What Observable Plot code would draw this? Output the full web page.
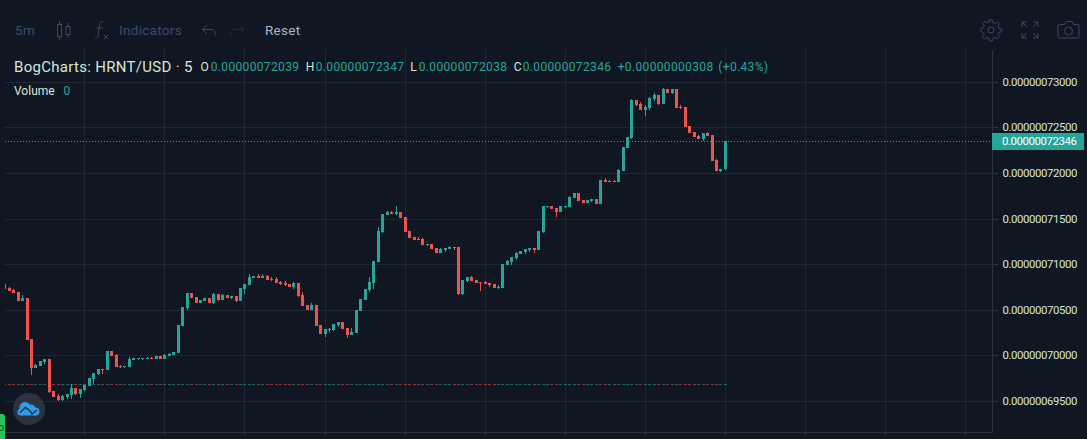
<!DOCTYPE html>
<html><head><meta charset="utf-8">
<script src="https://cdn.jsdelivr.net/npm/d3@7"></script>
<script src="https://cdn.jsdelivr.net/npm/@observablehq/plot@0.6"></script>
<style>
html,body{margin:0;padding:0;background:#101722;overflow:hidden}
#wrap{position:relative;width:1087px;height:439px;font-family:Roboto,sans-serif}
#wrap svg{display:block}
.t{position:absolute;white-space:nowrap;line-height:16px}
.tb{font-size:13.5px;color:#3a4a68;letter-spacing:.3px}
.lg{font-size:12px;color:#26a69a;letter-spacing:.35px}
.lb{font-size:12px;color:#d5e6da}
.ic{position:absolute;overflow:visible}
</style></head><body><div id="wrap"></div>
<script>
const opens=[70783,70739,70717,70695,70596,70629,70179,69861,69883,69927,
69960,69609,69554,69510,69543,69565,69642,69576,69620,69664,
69740,69795,69850,69839,70048,70004,69883,69872,69872,69949,
69960,69960,69960,69971,69960,69993,69960,69993,70004,70026,
70322,70519,70684,70640,70574,70596,70629,70574,70673,70607,
70662,70629,70651,70596,70728,70772,70848,70870,70848,70870,
70837,70837,70804,70793,70783,70750,70793,70662,70552,70497,
70552,70333,70234,70278,70278,70333,70366,70300,70223,70245,
70486,70607,70717,70793,71024,71353,71539,71572,71550,71572,
71517,71364,71298,71276,71276,71210,71221,71177,71123,71155,
71166,71188,71188,70673,70815,70859,70826,70804,70804,70793,
70783,70739,70739,70991,71024,71068,71112,71134,71155,71177,
71155,71353,71627,71638,71616,71572,71627,71627,71726,71781,
71704,71671,71693,71715,71660,71923,71901,71912,71901,72022,
72274,72384,72801,72757,72691,72713,72812,72856,72757,72922,
72878,72922,72724,72724,72516,72450,72406,72373,72439,72417,
72143,72022,72039];
const highs=[70783,70750,70728,70695,70662,70629,70179,69905,69938,69960,
69960,69609,69576,69565,69576,69686,69642,69631,69675,69751,
69806,69850,69850,70048,70048,70015,69894,69883,69982,69971,
69971,69971,69982,69982,69993,69993,70015,70026,70037,70333,
70530,70684,70684,70640,70607,70629,70629,70684,70673,70673,
70662,70651,70651,70739,70783,70892,70870,70892,70892,70881,
70859,70859,70815,70815,70783,70804,70793,70695,70552,70574,
70552,70333,70289,70300,70344,70366,70366,70300,70300,70497,
70618,70728,70859,71035,71408,71550,71583,71583,71638,71572,
71517,71364,71298,71298,71287,71221,71221,71177,71177,71177,
71199,71188,71188,70826,70859,70870,70826,70804,70815,70793,
70783,70772,71002,71046,71079,71134,71145,71166,71177,71177,
71364,71638,71638,71638,71616,71638,71638,71748,71781,71781,
71704,71704,71715,71715,71923,71945,71923,71923,72044,72285,
72395,72812,72801,72779,72746,72834,72878,72856,72933,72922,
72922,72922,72746,72724,72516,72450,72417,72439,72450,72417,
72154,72044,72347];
const lows=[70728,70706,70684,70596,70596,70168,69784,69861,69883,69905,
69587,69543,69499,69499,69521,69521,69565,69532,69609,69664,
69686,69784,69795,69839,69993,69872,69861,69861,69872,69949,
69949,69949,69960,69960,69960,69960,69960,69993,70004,70026,
70322,70497,70629,70574,70574,70596,70574,70563,70596,70607,
70629,70618,70585,70596,70673,70772,70848,70848,70848,70826,
70815,70793,70772,70761,70750,70728,70640,70541,70497,70497,
70322,70234,70201,70256,70267,70311,70289,70190,70223,70245,
70486,70607,70695,70728,71024,71342,71539,71550,71539,71507,
71353,71287,71265,71265,71210,71199,71166,71123,71123,71134,
71166,71155,70662,70662,70804,70815,70793,70706,70783,70750,
70739,70728,70739,70991,70991,71046,71112,71112,71134,71123,
71155,71342,71616,71605,71517,71572,71616,71627,71726,71693,
71671,71671,71682,71660,71660,71901,71901,71901,71901,72022,
72274,72373,72735,72691,72625,72691,72790,72746,72757,72878,
72867,72713,72702,72505,72439,72395,72373,72351,72406,72132,
72022,72011,72038];
const closes=[70728,70706,70684,70596,70629,70168,69861,69894,69938,69960,
69598,69543,69510,69554,69576,69642,69576,69631,69675,69751,
69806,69850,69839,70048,69993,69872,69872,69883,69960,69971,
69971,69971,69971,69960,69993,69960,70004,70015,70037,70333,
70530,70684,70629,70574,70607,70629,70574,70673,70607,70662,
70629,70651,70596,70739,70783,70859,70870,70848,70870,70826,
70826,70793,70783,70772,70750,70793,70651,70541,70497,70552,
70322,70234,70289,70289,70344,70366,70289,70223,70256,70497,
70618,70728,70804,71035,71364,71550,71572,71550,71572,71507,
71353,71287,71265,71265,71210,71221,71166,71123,71166,71177,
71188,71177,70673,70826,70859,70815,70793,70793,70783,70772,
70739,70750,71002,71035,71079,71123,71145,71166,71177,71155,
71364,71638,71638,71605,71572,71638,71638,71737,71781,71693,
71671,71704,71715,71660,71923,71901,71912,71901,72033,72285,
72395,72801,72746,72691,72724,72823,72856,72757,72922,72878,
72922,72713,72713,72505,72439,72395,72373,72439,72406,72132,
72022,72044,72346];
const priceTicks=[69500,70000,70500,71000,71500,72000,72500,73000];
const timeTicks=[18,36,54,72,90,108,126,144,162,180,198,216];
const lastPrice=72346;
const volumeLevel=[69686,69675];

const UP="#26a69a",DOWN="#ef5350",GRID="#1f2634",AXIS="#2a3242",TXT="#d5e6da",BG="#101722";
const fmt=d=>"0.000000"+d;
const rows=opens.map((o,i)=>({i,o,h:highs[i],l:lows[i],c:closes[i],dir:closes[i]>=o?"up":"down"}));

const chart=Plot.plot({
  width:1087,height:439,marginTop:50,marginBottom:7,marginLeft:5,marginRight:95,
  style:{background:BG,fontFamily:"Roboto,sans-serif",fontSize:"11.4px",letterSpacing:"-.42px"},
  x:{domain:[0.157,222.05],round:true,axis:null},
  y:{domain:[69159,73349.5],round:true,axis:null},
  color:{domain:["up","down"],range:[UP,DOWN]},
  marks:[
    Plot.gridX(timeTicks,{stroke:GRID,strokeOpacity:1}),
    Plot.gridY(priceTicks,{stroke:GRID,strokeOpacity:1}),
    Plot.axisX({ticks:timeTicks,tickFormat:()=>"",tickSize:4,stroke:AXIS,label:null}),
    Plot.axisY({anchor:"right",ticks:priceTicks,tickFormat:fmt,tickSize:5,tickPadding:5,stroke:AXIS,fill:TXT,label:null}),
    Plot.frame({anchor:"bottom",stroke:AXIS}),
    Plot.frame({anchor:"right",stroke:AXIS}),
    Plot.ruleX(rows,{x:"i",y1:volumeLevel[0],y2:volumeLevel[1],stroke:"dir",strokeWidth:3,strokeOpacity:.55,clip:true}),
    Plot.ruleY([lastPrice],{stroke:UP,strokeWidth:1,strokeDasharray:"1,2"}),
    Plot.ruleX(rows,{x:"i",y1:"l",y2:"h",stroke:"dir",strokeWidth:1,clip:true}),
    Plot.ruleX(rows,{x:"i",y1:"o",y2:"c",stroke:"dir",strokeWidth:3,clip:true})
  ]
});
const wrap=document.getElementById("wrap");
wrap.appendChild(chart);

function txt(s,x,y,cls,extra){
  const d=document.createElement("div");
  d.className="t "+cls;d.textContent=s;
  d.style.left=x+"px";d.style.top=y+"px";
  if(extra)Object.assign(d.style,extra);
  wrap.appendChild(d);
}
txt("5m",15,22,"tb");
txt("Indicators",119,22,"tb");
txt("Reset",265,22,"tb",{color:"#aab4c8"});
txt("BogCharts: HRNT/USD · 5",14,59,"lb",{fontSize:"15px",letterSpacing:".3px"});
txt("O",200.5,59,"lb");txt("0.00000072039",210.7,59,"lg");
txt("H",305.7,59,"lb");txt("0.00000072347",315.7,59,"lg");
txt("L",410.3,59,"lb");txt("0.00000072038",418.7,59,"lg");
txt("C",513.7,59,"lb");txt("0.00000072346",522.7,59,"lg");
txt("+0.00000000308",617.7,59,"lg");
txt("(+0.43%)",718.3,59,"lg");
txt("Volume",14,83,"lb");
txt("0",63.5,83,"lg");
txt(fmt(lastPrice),992,133,"",{height:"17px",lineHeight:"17px",background:UP,color:"#fff",fontSize:"11.4px",letterSpacing:"-.42px",paddingLeft:"10px",boxSizing:"border-box",width:"92px"});

function icon(x,y,w,h,body,stroke){
  const ns="http://www.w3.org/2000/svg";
  const s=document.createElementNS(ns,"svg");
  s.setAttribute("class","ic");s.setAttribute("width",w);s.setAttribute("height",h);
  s.setAttribute("viewBox",`0 0 ${w} ${h}`);
  s.style.left=x+"px";s.style.top=y+"px";
  s.innerHTML=`<g fill="none" stroke="${stroke}" stroke-width="1">${body}</g>`;
  wrap.appendChild(s);
}
const IC="#3a4860";
icon(57,20,14,21,'<rect x="0.5" y="4.5" width="4" height="12"/><path d="M2.5 1v3M2.5 17v3"/><rect x="9" y="6.5" width="4" height="8"/><path d="M11 3v3M11 15v3"/>',IC);
icon(94,20,16,20,'<path d="M9 1.5C6 1 6 3 5.5 6L4 16c-.3 2-2 2.5-3 1.5M2.5 8H9"/><path d="M10 15l4 4M14 15l-4 4"/>',IC);
icon(201,24,16,13,'<path d="M6 1L1.5 5.5L6 10M1.5 5.5H10c3 0 4.5 2.5 4.5 6"/>',"#3a475f");
icon(229,24,16,13,'<path d="M10 1l4.5 4.5L10 10M14.5 5.5H6c-3 0-4.5 2.5-4.5 6"/>',"#242d3d");
icon(980,19,22,22,'<circle cx="11" cy="11" r="3"/><path d="M9.5 1h3l.6 2.6 2 .9 2.3-1.4 2.1 2.1-1.4 2.3.9 2 2.5.5v3l-2.5.6-.9 2 1.4 2.3-2.1 2.1-2.3-1.4-2 .9-.6 2.5h-3l-.6-2.5-2-.9-2.3 1.4-2.1-2.1 1.4-2.3-.9-2L1 12.5v-3l2.5-.5.9-2-1.4-2.3 2.1-2.1 2.3 1.4 2-.9z" transform="translate(-.1 -.1)"/>',IC);
icon(1021,21,18,18,'<path d="M1 6V1h5M1 1l5 5M12 1h5v5M17 1l-5 5M1 12v5h5M1 17l5-5M17 12v5h-5M17 17l-5-5"/>',IC);
icon(1057,20,23,19,'<path d="M2.5 4.5h5L9 1.5h6l1.5 3h4a1.5 1.5 0 0 1 1.5 1.5v10.5a1.5 1.5 0 0 1-1.5 1.5h-18A1.5 1.5 0 0 1 1 16.500V6a1.500 1.500 0 0 1 1.500-1.500z"/><circle cx="11.500" cy="11" r="4"/>',IC);

const disc=document.createElement("div");
Object.assign(disc.style,{position:"absolute",left:"12.500px",top:"393px",width:"32px",height:"32px",borderRadius:"50%",background:"#2c323e"});
wrap.appendChild(disc);
icon(17,401,24,16,'<g fill="#2f9bea" stroke="none"><circle cx="8" cy="6.500" r="5.500"/><circle cx="14" cy="8" r="4.500"/><circle cx="18.500" cy="10.500" r="4"/><circle cx="4" cy="11" r="3.500"/><rect x="4" y="8" width="15" height="6.500"/></g><path d="M3 11.500l5.500-5 4.500 3.500 2 3 5-4" stroke="#2c323e" stroke-width="1.500"/>',"none");
const tab=document.createElement("div");
Object.assign(tab.style,{position:"absolute",left:"0",top:"414px",width:"5px",height:"25px",borderRadius:"0 3px 0 0",background:"#22c55e"});
wrap.appendChild(tab);
const tabDot=document.createElement("div");
Object.assign(tabDot.style,{position:"absolute",left:"-2px",top:"425px",width:"4px",height:"4px",borderRadius:"50%",border:"1px solid #14532d"});
wrap.appendChild(tabDot);
</script></body></html>
